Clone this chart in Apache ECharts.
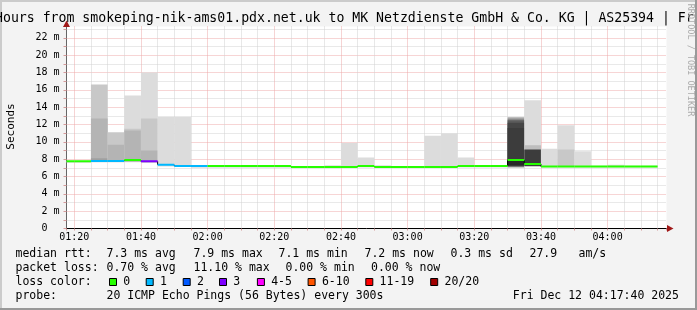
<!DOCTYPE html>
<html>
<head>
<meta charset="utf-8">
<script src="https://cdn.jsdelivr.net/npm/echarts@6/dist/echarts.min.js"></script>
<style>
html,body{margin:0;padding:0;background:#f3f3f3;}
#c{width:697px;height:310px;}
</style>
</head>
<body>
<div id="c"></div>
<script>
// ---------- data ----------
const titleText = 'Hours from smokeping-nik-ams01.pdx.net.uk to MK Netzdienste GmbH & Co. KG | AS25394 | Fr';
const axisStart = '01:17:40';
const axisEnd = '04:17:40';
const binStarts = ['01:15','01:20','01:25','01:30','01:35','01:40','01:45','01:50','01:55',
  '02:00','02:05','02:10','02:15','02:20','02:25','02:30','02:35','02:40','02:45','02:50','02:55',
  '03:00','03:05','03:10','03:15','03:20','03:25','03:30','03:35','03:40','03:45','03:50','03:55',
  '04:00','04:05','04:10'];
const medianMs = [7.75,7.75,7.8,7.8,7.9,7.75,7.35,7.2,7.2,
  7.2,7.2,7.2,7.2,7.2,7.1,7.1,7.1,7.1,7.2,7.1,7.1,
  7.1,7.1,7.1,7.2,7.2,7.2,7.9,7.45,7.15,7.15,7.15,7.15,
  7.15,7.15,7.15];
const lossCount = [0,0,1,1,0,3,1,1,1,
  0,0,0,0,0,0,0,0,0,0,0,0,
  0,0,0,0,0,0,0,0,0,0,0,0,
  0,0,0];
// smoke bands: [bin start, low ms, high ms, shade index]
const smokeBands = [
  ['01:15',7.6,7.8,1],['01:20',7.6,7.8,1],
  ['01:25',7.65,16.6,1],['01:25',7.7,12.7,2],['01:25',7.7,8.1,3],
  ['01:30',7.65,11.1,1],['01:30',7.7,9.65,2],
  ['01:35',7.65,15.35,0],['01:35',7.7,11.5,1],['01:35',7.7,11.3,2],
  ['01:40',7.6,18.0,0],['01:40',7.6,12.7,1],['01:40',7.65,9.0,2],
  ['01:45',7.15,12.85,0],['01:50',7.1,12.85,0],['01:55',7.0,7.25,0],
  ['02:00',7.0,7.25,0],['02:05',7.0,7.25,0],['02:10',7.0,7.25,0],['02:15',7.0,7.25,0],['02:20',7.0,7.25,0],
  ['02:25',6.95,7.2,0],['02:30',6.95,7.2,0],['02:35',6.95,7.3,0],
  ['02:40',7.0,9.85,0],['02:45',7.05,8.2,0],['02:50',7.0,7.3,0],['02:55',7.0,7.2,0],['03:00',7.0,7.2,0],
  ['03:05',7.0,10.7,0],['03:10',7.0,11.0,0],['03:15',7.05,8.2,0],['03:20',7.05,7.3,0],['03:25',7.05,7.3,0],
  ['03:30',7.0,12.85,9],['03:30',7.1,12.7,4],['03:30',7.15,12.5,5],['03:30',7.2,12.2,6],['03:30',7.25,11.6,7],['03:30',7.3,8.0,8],
  ['03:35',7.1,14.8,0],['03:35',7.15,9.6,9],['03:35',7.2,9.1,7],
  ['03:40',7.05,9.2,0],['03:45',7.05,11.9,0],['03:45',7.1,9.1,1],['03:50',7.05,8.9,0],
  ['03:55',7.05,7.25,0],['04:00',7.05,7.35,0],['04:05',7.05,7.25,0],['04:10',7.05,7.25,0]
];
const shades = ['#dcdcdc','#c8c8c8','#b4b4b4','#a0a0a0','#8a8a8a','#5c5c5c','#464646','#3c3c3c','#282828','#bdbdbd'];
const lossLabels = ['0','1','2','3','4-5','6-10','11-19','20/20'];
const lossColors = ['#26ff00','#00b8ff','#0059ff','#7e00ff','#ff00ff','#ff5500','#ff0000','#a10000'];
const rttLegend = ['median rtt:','7.3 ms avg','7.9 ms max','7.1 ms min','7.2 ms now','0.3 ms sd','27.9','am/s'];
const lossLegend = ['packet loss:','0.70 % avg','11.10 % max','0.00 % min','0.00 % now'];
const probeLegend = ['probe:','20 ICMP Echo Pings (56 Bytes) every 300s','Fri Dec 12 04:17:40 2025'];
const yMax = 23.3;

// ---------- helpers ----------
function toMin(s){const p=s.split(':').map(Number);return p[0]*60+p[1]+(p[2]||0)/60;}
const X_MIN = toMin(axisStart), X_MAX = toMin(axisEnd);
const BIN = 5;
function lossIdx(n){ if(n<=3) return n; if(n<=5) return 4; if(n<=10) return 5; if(n<=19) return 6; return 7; }
function hhmm(v){const h=Math.floor(v/60), m=Math.round(v%60);return (h<10?'0':'')+h+':'+(m<10?'0':'')+m;}

const MONO = 'DejaVu Sans Mono';
const GRID_L = 66.5, GRID_T = 26.5, GRID_W = 600, GRID_H = 202;
const MAJOR = '#eeaaaa', MINOR = '#d2d2d2';

// split line colors (index-cycled)
const yTickCount = Math.floor(yMax) + 2; // 0..23 plus max
const yLineColors = [];
for (let i = 0; i < yTickCount; i++) yLineColors.push(i === yTickCount-1 ? 'rgba(0,0,0,0)' : (i % 2 === 0 ? MAJOR : MINOR));
const xTicks = [X_MIN];
for (let t = Math.ceil(X_MIN/BIN)*BIN; t <= X_MAX; t += BIN) xTicks.push(t);
xTicks.push(X_MAX);
const xLineColors = xTicks.map((t,i)=> (i===0||i===xTicks.length-1) ? 'rgba(0,0,0,0)' : (Math.round(t)%20===0 ? MAJOR : MINOR));

const smokeData = smokeBands.map(b=>[toMin(b[0]), b[1], b[2], b[3]]);
const medianData = binStarts.map((s,i)=>[toMin(s), medianMs[i], lossCount[i]]);

// ---------- graphic (texts / legend / frame) ----------
const graphic = [];
function txt(x,y,s,size,extra){graphic.push(Object.assign({type:'text',x:x,y:y,silent:true,style:{text:s,font:size+'px "'+MONO+'"',fill:'#000',textVerticalAlign:'middle'}},extra||{}));}
// frame
graphic.push({type:'rect',shape:{x:0,y:0,width:697,height:2},style:{fill:'#cbcbcb'},silent:true});
graphic.push({type:'rect',shape:{x:0,y:0,width:2,height:310},style:{fill:'#cbcbcb'},silent:true});
graphic.push({type:'rect',shape:{x:0,y:308,width:697,height:2},style:{fill:'#999999'},silent:true});
graphic.push({type:'rect',shape:{x:695,y:0,width:2,height:310},style:{fill:'#999999'},silent:true});
// title
txt(-5, 19, titleText, 13.2);
// vertical watermark
graphic.push({type:'text',x:690.5,y:60,rotation:-Math.PI/2,silent:true,style:{text:'RRDTOOL / TOBI OETIKER',font:'8.5px "'+MONO+'"',fill:'#ababab',textAlign:'center',textVerticalAlign:'middle'}});
// y axis name
graphic.push({type:'text',x:11,y:126.5,rotation:Math.PI/2,silent:true,style:{text:'Seconds',font:'11px "'+MONO+'"',fill:'#000',textAlign:'center',textVerticalAlign:'middle'}});
// arrows
graphic.push({type:'polygon',shape:{points:[[667,225],[673.5,228.5],[667,232]]},style:{fill:'#a01818'},silent:true,z:10});
graphic.push({type:'polygon',shape:{points:[[63,27],[66.5,20.5],[70,27]]},style:{fill:'#a01818'},silent:true,z:10});
// legend rows
const F = 11.5;
const rttX = [15.5,106.5,193.5,278.5,364.5,450.5,529.5,578.5];
rttLegend.forEach((s,i)=>txt(rttX[i],253.7,s,F));
const lossX = [15.5,106.5,193.5,285.5,371];
lossLegend.forEach((s,i)=>txt(lossX[i],268,s,F));
txt(15.5,282,'loss color:',F);
const boxX = [109,145.7,182.7,219,256.9,307.6,365.3,430.2];
lossLabels.forEach((s,i)=>{
  graphic.push({type:'rect',shape:{x:boxX[i]+0.5,y:278.5,width:7,height:7},style:{fill:lossColors[i],stroke:'#000',lineWidth:1},silent:true});
  txt(boxX[i]+14.3,282,s,F);
});
const probeX = [15.5,106.5,512.8];
probeLegend.forEach((s,i)=>txt(probeX[i],295.7,s,F));

// ---------- chart ----------
const chart = echarts.init(document.getElementById('c'), null, {renderer:'canvas'});
chart.setOption({
  animation:false,
  backgroundColor:'#f3f3f3',
  grid:{left:GRID_L,top:GRID_T,width:GRID_W,height:GRID_H,show:true,backgroundColor:'#ffffff',borderWidth:0,containLabel:false},
  xAxis:{
    type:'value', min:X_MIN, max:X_MAX, minInterval:BIN, maxInterval:BIN, splitNumber:36,
    axisLine:{show:true,lineStyle:{color:'#000',width:1}},
    axisTick:{show:true,length:2,lineStyle:{color:'#d49a9a'}},
    axisLabel:{interval:0,margin:4,color:'#000',fontFamily:MONO,fontSize:10,hideOverlap:false,showMinLabel:true,showMaxLabel:true,
      formatter:function(v){const r=Math.round(v); if(Math.abs(v-r)>1e-6||r%20!==0) return ''; return hhmm(r);}},
    splitLine:{show:true,lineStyle:{color:xLineColors,width:1,type:[1,1]}}
  },
  yAxis:{
    type:'value', min:0, max:yMax, interval:1,
    axisLine:{show:true,lineStyle:{color:'#666',width:1}},
    axisTick:{show:true,length:3,lineStyle:{color:'#d49a9a'}},
    axisLabel:{margin:7,color:'#000',fontFamily:MONO,fontSize:10,showMaxLabel:true,
      formatter:function(v){const r=Math.round(v); if(Math.abs(v-r)>1e-6||r%2!==0||r>22) return ''; return r===0?'0  ':(r+' m');}},
    splitLine:{show:true,lineStyle:{color:yLineColors,width:1,type:[1,1]}}
  },
  series:[
    {
      type:'custom', name:'smoke', clip:true, z:2,
      data:smokeData,
      encode:{x:0,y:[1,2]},
      renderItem:function(params,api){
        const t0=api.value(0);
        const xs=Math.max(t0,X_MIN), xe=Math.min(t0+BIN,X_MAX);
        const p0=api.coord([xs,api.value(2)]), p1=api.coord([xe,api.value(1)]);
        return {type:'rect',shape:{x:p0[0],y:p0[1],width:p1[0]-p0[0],height:p1[1]-p0[1]},style:{fill:shades[api.value(3)]}};
      }
    },
    {
      type:'custom', name:'median', clip:true, z:3,
      data:medianData,
      encode:{x:0,y:1},
      renderItem:function(params,api){
        const i=params.dataIndex;
        const t0=api.value(0), m=api.value(1), loss=api.value(2);
        const xs=Math.max(t0,X_MIN);
        const a=api.coord([xs,m]), b=api.coord([t0+BIN,m]);
        const children=[];
        const next=medianMs[i+1];
        if(next!=null && next!==m){
          const c=api.coord([t0+BIN,next]);
          children.push({type:'line',shape:{x1:b[0],y1:b[1],x2:c[0],y2:c[1]},style:{stroke:'#000',lineWidth:1}});
        }
        children.push({type:'line',shape:{x1:a[0],y1:a[1],x2:b[0],y2:b[1]},style:{stroke:lossColors[lossIdx(loss)],lineWidth:2}});
        return {type:'group',children:children};
      }
    }
  ],
  graphic:graphic
});
</script>
</body>
</html>
